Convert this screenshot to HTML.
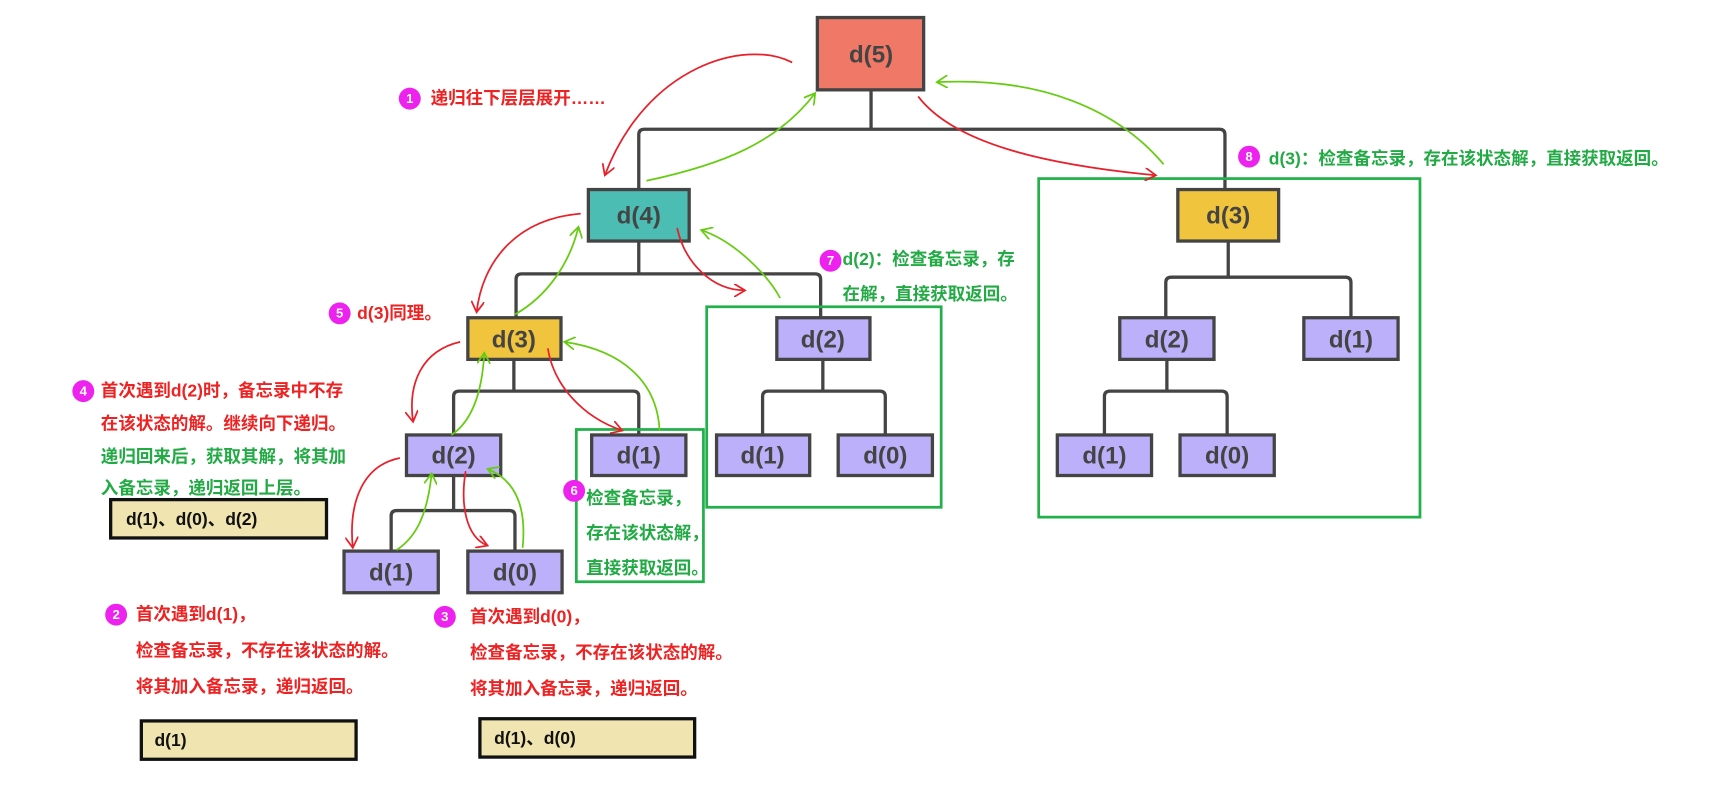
<!DOCTYPE html>
<html><head><meta charset="utf-8"><style>
html,body{margin:0;padding:0;background:#fff;}
svg{display:block;}
text{font-family:"Liberation Sans","Noto Sans CJK SC",sans-serif;font-weight:bold;}
.n{font-size:22px;fill:#444;text-anchor:middle;}
.r{font-size:16px;fill:#ee2222;}
.g{font-size:16px;fill:#22aa44;}
.m{font-size:16px;fill:#111;}
.c{font-size:12px;fill:#fff;text-anchor:middle;font-weight:normal;}
</style></head><body>
<svg width="1718" height="802" viewBox="0 0 1568 732" preserveAspectRatio="none" xmlns="http://www.w3.org/2000/svg">
<defs>
<marker id="ar" viewBox="0 0 12 12" refX="10" refY="6" markerWidth="12" markerHeight="12" markerUnits="userSpaceOnUse" orient="auto"><path d="M0,0 L10,6 L0,12" fill="none" stroke="#e8202a" stroke-width="1.6"/></marker>
<marker id="ag" viewBox="0 0 12 12" refX="10" refY="6" markerWidth="12" markerHeight="12" markerUnits="userSpaceOnUse" orient="auto"><path d="M0,0 L10,6 L0,12" fill="none" stroke="#66cc11" stroke-width="1.6"/></marker>
</defs>
<g fill="none" stroke="#444" stroke-width="3">
<path d="M795,82 V118 M583,173 V123 Q583,118 588,118 H1113 Q1118,118 1118,123 V173"/>
<path d="M583,220 V250 M471,290 V255 Q471,250 476,250 H744 Q749,250 749,255 V290"/>
<path d="M469,328 V357 M414,397 V362 Q414,357 419,357 H578 Q583,357 583,362 V397"/>
<path d="M414,434 V466 M357,503 V471 Q357,466 362,466 H465 Q470,466 470,471 V503"/>
<path d="M751,328 V357 M696,397 V362 Q696,357 701,357 H803 Q808,357 808,362 V397"/>
<path d="M1121,220 V253 M1064,290 V258 Q1064,253 1069,253 H1228 Q1233,253 1233,258 V290"/>
<path d="M1065,328 V357 M1008,397 V362 Q1008,357 1013,357 H1115 Q1120,357 1120,362 V397"/>
</g>
<g fill="none" stroke="#22b04a" stroke-width="2.5">
<rect x="645" y="280" width="214" height="183"/>
<rect x="948" y="163" width="348" height="309"/>
<rect x="526" y="392" width="116" height="139"/>
</g>
<g stroke="#444" stroke-width="3">
<rect x="746" y="16" width="97" height="66" fill="#f07866"/>
<rect x="537" y="173" width="92" height="47" fill="#4cbdb3"/>
<rect x="427" y="290" width="85" height="38" fill="#f0c43c"/>
<rect x="1075" y="173" width="92" height="47" fill="#f0c43c"/>
<g fill="#bdb0fa">
<rect x="371" y="397" width="86" height="37"/>
<rect x="314" y="503" width="86" height="38"/>
<rect x="427" y="503" width="86" height="38"/>
<rect x="540" y="397" width="86" height="37"/>
<rect x="709" y="290" width="85" height="38"/>
<rect x="654" y="397" width="85" height="37"/>
<rect x="765" y="397" width="86" height="37"/>
<rect x="1022" y="290" width="86" height="38"/>
<rect x="1190" y="290" width="86" height="38"/>
<rect x="965" y="397" width="86" height="37"/>
<rect x="1077" y="397" width="86" height="37"/>
</g>
</g>
<g class="n">
<text x="795" y="57">d(5)</text>
<text x="583" y="204">d(4)</text>
<text x="469" y="317">d(3)</text>
<text x="1121" y="204">d(3)</text>
<text x="414" y="423">d(2)</text>
<text x="357" y="530">d(1)</text>
<text x="470" y="530">d(0)</text>
<text x="583" y="423">d(1)</text>
<text x="751" y="317">d(2)</text>
<text x="696" y="423">d(1)</text>
<text x="808" y="423">d(0)</text>
<text x="1065" y="317">d(2)</text>
<text x="1233" y="317">d(1)</text>
<text x="1008" y="423">d(1)</text>
<text x="1120" y="423">d(0)</text>
</g>
<g fill="none" stroke-width="1.6">
<path d="M723,57 C680,35 590,60 552,160" stroke="#e8202a" marker-end="url(#ar)"/>
<path d="M590,165 C660,150 710,130 744,85" stroke="#66cc11" marker-end="url(#ag)"/>
<path d="M838,88 C870,130 950,150 1055,160" stroke="#e8202a" marker-end="url(#ar)"/>
<path d="M1062,150 C1020,100 950,70 855,75" stroke="#66cc11" marker-end="url(#ag)"/>
<path d="M530,195 C470,200 440,240 435,285" stroke="#e8202a" marker-end="url(#ar)"/>
<path d="M470,287 C500,270 520,240 528,207" stroke="#66cc11" marker-end="url(#ag)"/>
<path d="M618,208 C625,240 650,265 680,265" stroke="#e8202a" marker-end="url(#ar)"/>
<path d="M712,272 C700,250 670,220 640,210" stroke="#66cc11" marker-end="url(#ag)"/>
<path d="M420,312 C385,320 372,350 377,385" stroke="#e8202a" marker-end="url(#ar)"/>
<path d="M412,397 C430,385 440,360 442,322" stroke="#66cc11" marker-end="url(#ag)"/>
<path d="M500,318 C505,350 530,380 568,393" stroke="#e8202a" marker-end="url(#ar)"/>
<path d="M602,393 C600,350 570,320 515,312" stroke="#66cc11" marker-end="url(#ag)"/>
<path d="M365,418 C330,425 318,460 322,500" stroke="#e8202a" marker-end="url(#ar)"/>
<path d="M362,502 C380,490 390,470 394,432" stroke="#66cc11" marker-end="url(#ag)"/>
<path d="M425,430 C420,460 425,490 445,498" stroke="#e8202a" marker-end="url(#ar)"/>
<path d="M477,500 C480,470 475,440 445,428" stroke="#66cc11" marker-end="url(#ag)"/>
</g>
<g stroke="#111" stroke-width="3" fill="#f0e4b0">
<rect x="101" y="456" width="197" height="35"/>
<rect x="129" y="658" width="196" height="35"/>
<rect x="438" y="656" width="196" height="35"/>
</g>
<text class="m" x="115" y="479">d(1)、d(0)、d(2)</text>
<text class="m" x="141" y="681">d(1)</text>
<text class="m" x="451" y="679">d(1)、d(0)</text>
<g fill="#ee22ee">
<circle cx="374" cy="90" r="10"/>
<circle cx="106" cy="561" r="10"/>
<circle cx="406" cy="563" r="10"/>
<circle cx="76" cy="357" r="10"/>
<circle cx="310" cy="286" r="10"/>
<circle cx="524" cy="448" r="10"/>
<circle cx="758" cy="238" r="10"/>
<circle cx="1140" cy="143" r="10"/>
</g>
<g class="c">
<text x="374" y="94">1</text><text x="106" y="565">2</text><text x="406" y="567">3</text><text x="76" y="361">4</text>
<text x="310" y="290">5</text><text x="524" y="452">6</text><text x="758" y="242">7</text><text x="1140" y="147">8</text>
</g>
<text class="r" x="393" y="95">递归往下层层展开……</text>
<text class="r" x="326" y="291">d(3)同理。</text>
<text class="r" x="92" y="362">首次遇到d(2)时，备忘录中不存</text>
<text class="r" x="92" y="392">在该状态的解。继续向下递归。</text>
<text class="g" x="92" y="422">递归回来后，获取其解，将其加</text>
<text class="g" x="92" y="451">入备忘录，递归返回上层。</text>
<text class="r" x="124" y="566">首次遇到d(1)，</text>
<text class="r" x="124" y="599">检查备忘录，不存在该状态的解。</text>
<text class="r" x="124" y="632">将其加入备忘录，递归返回。</text>
<text class="r" x="429" y="568">首次遇到d(0)，</text>
<text class="r" x="429" y="601">检查备忘录，不存在该状态的解。</text>
<text class="r" x="429" y="634">将其加入备忘录，递归返回。</text>
<text class="g" x="535" y="460">检查备忘录，</text>
<text class="g" x="535" y="492">存在该状态解，</text>
<text class="g" x="535" y="524">直接获取返回。</text>
<text class="g" x="769" y="242">d(2)：检查备忘录，存</text>
<text class="g" x="769" y="274">在解，直接获取返回。</text>
<text class="g" x="1158" y="150">d(3)：检查备忘录，存在该状态解，直接获取返回。</text>
</svg>
</body></html>
